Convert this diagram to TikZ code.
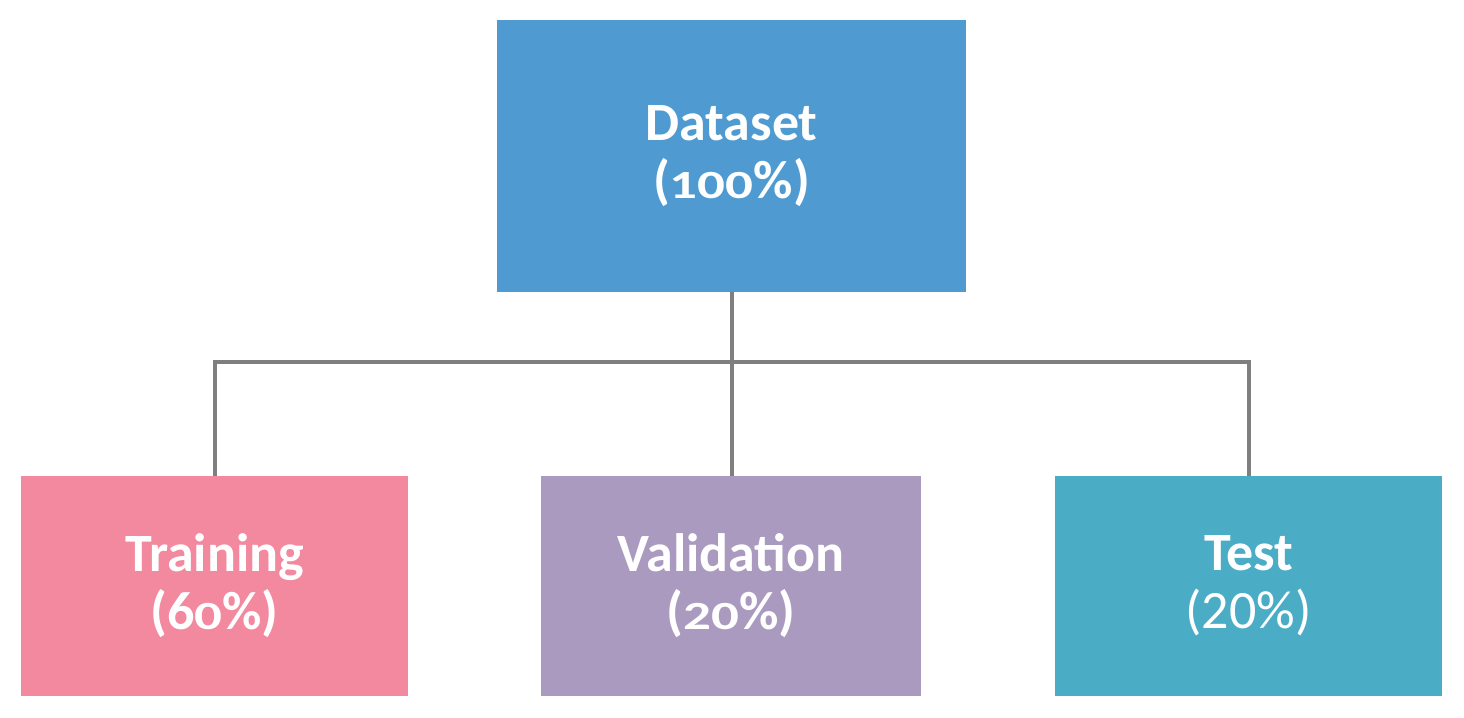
\documentclass[tikz,border=0pt]{standalone}
\usepackage{fontspec}
\usepackage{graphicx}
\setmainfont{Carlito}
\newcommand\od[1]{\scalebox{1.02}[0.74]{#1}}
\definecolor{cData}{HTML}{4F9BD1}
\definecolor{cTrain}{HTML}{F2899E}
\definecolor{cVal}{HTML}{AB9ABF}
\definecolor{cTest}{HTML}{4BACC6}
\definecolor{cLine}{HTML}{7F7F7F}
\tikzset{
  boxnode/.style={rectangle, inner sep=0pt, align=center, text=white,
    font=\fontsize{27}{29}\selectfont},
  link/.style={draw=cLine, line width=2pt}
}
\begin{document}
\begin{tikzpicture}[x=0.5pt, y=-0.5pt]
\useasboundingbox (0,0) rectangle (1464,718);
\node[boxnode, fill=cData, minimum width=234.5pt, minimum height=136pt] (data) at (731.5,156)
  {\bfseries Dataset\\\bfseries (\od{1}\od{0}\od{0}\%)};
\node[boxnode, fill=cTrain, minimum width=193.5pt, minimum height=110pt] (train) at (214.5,586)
  {\bfseries Training\\\bfseries (6\od{0}\%)};
\node[boxnode, fill=cVal, minimum width=190pt, minimum height=110pt] (val) at (731,586)
  {\bfseries Validation\\\bfseries (\od{2}\od{0}\%)};
\node[boxnode, fill=cTest, minimum width=193.5pt, minimum height=110pt] (test) at (1248.5,586)
  {\bfseries Test\\(20\%)};
\coordinate (j) at (732,362);
\path[link] (data.south -| j) -- (val.north -| j);
\path[link] (train.north) |- (j);
\path[link] (j) -| (test.north);
\end{tikzpicture}
\end{document}
